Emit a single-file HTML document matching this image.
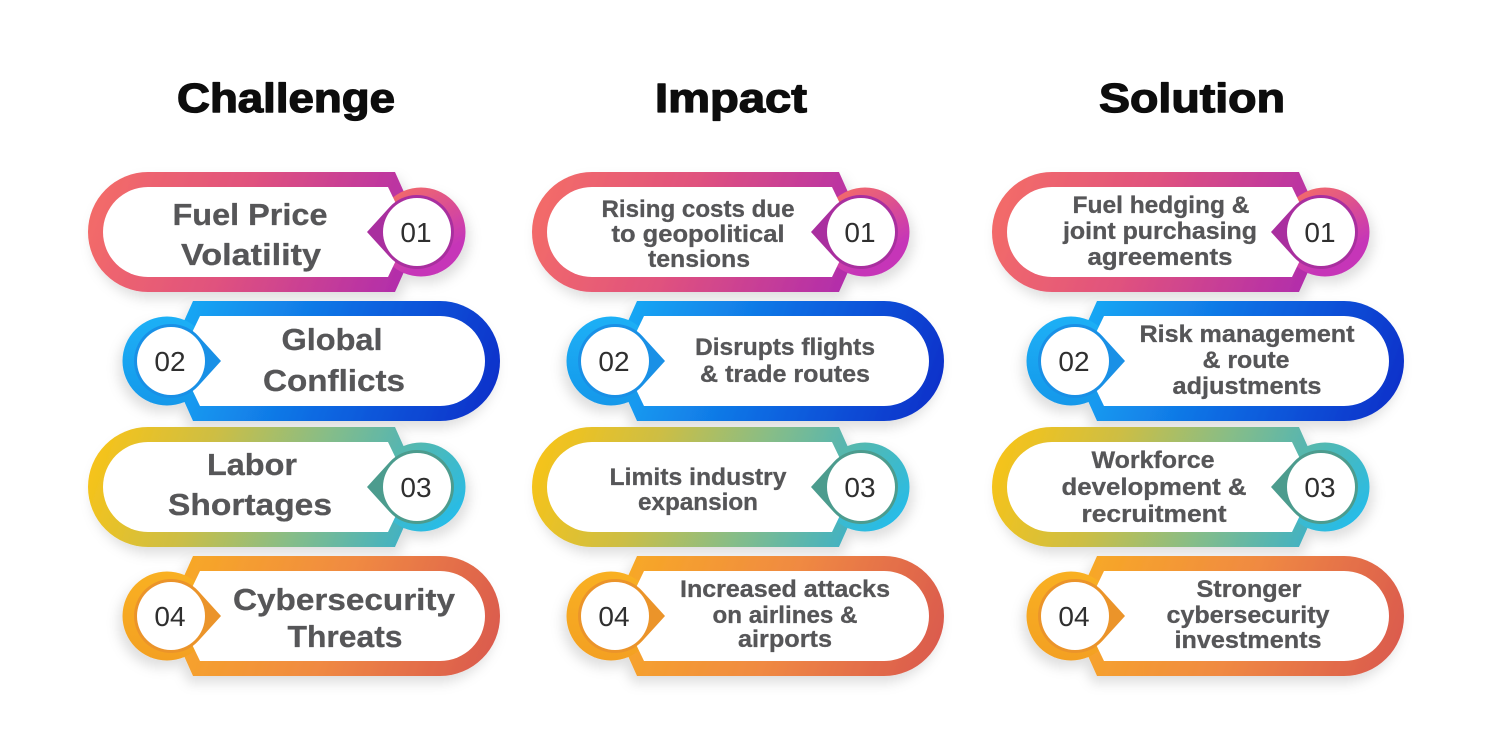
<!DOCTYPE html>
<html>
<head>
<meta charset="utf-8">
<style>
  html,body{margin:0;padding:0;background:#fff;}
  svg{display:block;}
  .t{font-family:"Liberation Sans",Arial,sans-serif;font-weight:bold;fill:#565658;text-anchor:middle;stroke:#565658;stroke-width:0.3;}
  .h{font-family:"Liberation Sans",Arial,sans-serif;font-weight:bold;fill:#0d0d0d;text-anchor:middle;font-size:41px;stroke:#0d0d0d;stroke-width:1.3;stroke-linejoin:round;}
  .n{font-family:"Liberation Sans",Arial,sans-serif;font-weight:normal;fill:#2f2f2f;text-anchor:middle;font-size:28px;}
</style>
</head>
<body>
<svg width="1500" height="750" viewBox="0 0 1500 750" xmlns="http://www.w3.org/2000/svg">
  <defs>
    <filter id="sh" x="-20%" y="-30%" width="150%" height="170%">
      <feDropShadow dx="4" dy="7" stdDeviation="6" flood-color="#000" flood-opacity="0.13"/>
    </filter>
    <linearGradient id="b1" gradientUnits="userSpaceOnUse" x1="0" y1="-60" x2="330" y2="60">
      <stop offset="0" stop-color="#f56e66"/>
      <stop offset="0.45" stop-color="#e0527e"/>
      <stop offset="1" stop-color="#ad29b0"/>
    </linearGradient>
    <linearGradient id="r1" gradientUnits="userSpaceOnUse" x1="315" y1="-45" x2="355" y2="20">
      <stop offset="0" stop-color="#f26a6a"/>
      <stop offset="1" stop-color="#c636b8"/>
    </linearGradient>
    <linearGradient id="b2" gradientUnits="userSpaceOnUse" x1="0" y1="60" x2="330" y2="-60">
      <stop offset="0" stop-color="#0a2cc8"/>
      <stop offset="0.5" stop-color="#0f6ae2"/>
      <stop offset="1" stop-color="#17aef6"/>
    </linearGradient>
    <linearGradient id="r2" gradientUnits="userSpaceOnUse" x1="333" y1="-45" x2="333" y2="45">
      <stop offset="0" stop-color="#1bb0f6"/>
      <stop offset="1" stop-color="#1898ea"/>
    </linearGradient>
    <linearGradient id="b3" gradientUnits="userSpaceOnUse" x1="0" y1="-60" x2="330" y2="60">
      <stop offset="0" stop-color="#fcc414"/>
      <stop offset="0.35" stop-color="#cdbe44"/>
      <stop offset="0.65" stop-color="#86bd88"/>
      <stop offset="1" stop-color="#36b0cc"/>
    </linearGradient>
    <linearGradient id="r3" gradientUnits="userSpaceOnUse" x1="300" y1="-40" x2="370" y2="40">
      <stop offset="0" stop-color="#5cb8a6"/>
      <stop offset="1" stop-color="#22bcee"/>
    </linearGradient>
    <linearGradient id="b4" gradientUnits="userSpaceOnUse" x1="0" y1="60" x2="330" y2="-60">
      <stop offset="0" stop-color="#d9574f"/>
      <stop offset="0.5" stop-color="#f08a42"/>
      <stop offset="1" stop-color="#f8ab24"/>
    </linearGradient>
    <linearGradient id="r4" gradientUnits="userSpaceOnUse" x1="333" y1="-45" x2="333" y2="45">
      <stop offset="0" stop-color="#f9b022"/>
      <stop offset="1" stop-color="#f3a024"/>
    </linearGradient>

    <path id="band" d="M60,-60 H307 L324,-22 V22 L307,60 H60 A60,60 0 0 1 60,-60 Z"/>
    <path id="inner" d="M60,-45 H300 L313,-18 V18 L300,45 H60 A45,45 0 0 1 60,-45 Z"/>
    <path id="tear" d="M279,0 L301.6,-24.9 A37,37 0 1 1 301.6,24.9 Z"/>
  </defs>

  <rect width="1500" height="750" fill="#fff"/>

  <text class="h" x="286" y="112" textLength="218" lengthAdjust="spacingAndGlyphs">Challenge</text>
  <text class="h" x="731" y="112" textLength="152" lengthAdjust="spacingAndGlyphs">Impact</text>
  <text class="h" x="1192" y="112" textLength="186" lengthAdjust="spacingAndGlyphs">Solution</text>

  <g transform="translate(88,232)">
    <g filter="url(#sh)"><use href="#band" fill="url(#b1)"/><circle cx="333" cy="0" r="44.5" fill="url(#r1)"/></g>
    <use href="#inner" fill="#fff"/><use href="#tear" fill="#a92f9f"/><circle cx="329" cy="0" r="34" fill="#fff"/>
  </g>
  <g transform="translate(532,232)">
    <g filter="url(#sh)"><use href="#band" fill="url(#b1)"/><circle cx="333" cy="0" r="44.5" fill="url(#r1)"/></g>
    <use href="#inner" fill="#fff"/><use href="#tear" fill="#a92f9f"/><circle cx="329" cy="0" r="34" fill="#fff"/>
  </g>
  <g transform="translate(992,232)">
    <g filter="url(#sh)"><use href="#band" fill="url(#b1)"/><circle cx="333" cy="0" r="44.5" fill="url(#r1)"/></g>
    <use href="#inner" fill="#fff"/><use href="#tear" fill="#a92f9f"/><circle cx="329" cy="0" r="34" fill="#fff"/>
  </g>

  <g transform="translate(500,361) scale(-1,1)">
    <g filter="url(#sh)"><use href="#band" fill="url(#b2)"/><circle cx="333" cy="0" r="44.5" fill="url(#r2)"/></g>
    <use href="#inner" fill="#fff"/><use href="#tear" fill="#1990e6"/><circle cx="329" cy="0" r="34" fill="#fff"/>
  </g>
  <g transform="translate(944,361) scale(-1,1)">
    <g filter="url(#sh)"><use href="#band" fill="url(#b2)"/><circle cx="333" cy="0" r="44.5" fill="url(#r2)"/></g>
    <use href="#inner" fill="#fff"/><use href="#tear" fill="#1990e6"/><circle cx="329" cy="0" r="34" fill="#fff"/>
  </g>
  <g transform="translate(1404,361) scale(-1,1)">
    <g filter="url(#sh)"><use href="#band" fill="url(#b2)"/><circle cx="333" cy="0" r="44.5" fill="url(#r2)"/></g>
    <use href="#inner" fill="#fff"/><use href="#tear" fill="#1990e6"/><circle cx="329" cy="0" r="34" fill="#fff"/>
  </g>

  <g transform="translate(88,487)">
    <g filter="url(#sh)"><use href="#band" fill="url(#b3)"/><circle cx="333" cy="0" r="44.5" fill="url(#r3)"/></g>
    <use href="#inner" fill="#fff"/><use href="#tear" fill="#4c9c8e"/><circle cx="329" cy="0" r="34" fill="#fff"/>
  </g>
  <g transform="translate(532,487)">
    <g filter="url(#sh)"><use href="#band" fill="url(#b3)"/><circle cx="333" cy="0" r="44.5" fill="url(#r3)"/></g>
    <use href="#inner" fill="#fff"/><use href="#tear" fill="#4c9c8e"/><circle cx="329" cy="0" r="34" fill="#fff"/>
  </g>
  <g transform="translate(992,487)">
    <g filter="url(#sh)"><use href="#band" fill="url(#b3)"/><circle cx="333" cy="0" r="44.5" fill="url(#r3)"/></g>
    <use href="#inner" fill="#fff"/><use href="#tear" fill="#4c9c8e"/><circle cx="329" cy="0" r="34" fill="#fff"/>
  </g>

  <g transform="translate(500,616) scale(-1,1)">
    <g filter="url(#sh)"><use href="#band" fill="url(#b4)"/><circle cx="333" cy="0" r="44.5" fill="url(#r4)"/></g>
    <use href="#inner" fill="#fff"/><use href="#tear" fill="#eb942a"/><circle cx="329" cy="0" r="34" fill="#fff"/>
  </g>
  <g transform="translate(944,616) scale(-1,1)">
    <g filter="url(#sh)"><use href="#band" fill="url(#b4)"/><circle cx="333" cy="0" r="44.5" fill="url(#r4)"/></g>
    <use href="#inner" fill="#fff"/><use href="#tear" fill="#eb942a"/><circle cx="329" cy="0" r="34" fill="#fff"/>
  </g>
  <g transform="translate(1404,616) scale(-1,1)">
    <g filter="url(#sh)"><use href="#band" fill="url(#b4)"/><circle cx="333" cy="0" r="44.5" fill="url(#r4)"/></g>
    <use href="#inner" fill="#fff"/><use href="#tear" fill="#eb942a"/><circle cx="329" cy="0" r="34" fill="#fff"/>
  </g>

  <text class="n" x="416" y="242">01</text>
  <text class="n" x="860" y="242">01</text>
  <text class="n" x="1320" y="242">01</text>
  <text class="n" x="170" y="371">02</text>
  <text class="n" x="614" y="371">02</text>
  <text class="n" x="1074" y="371">02</text>
  <text class="n" x="416" y="497">03</text>
  <text class="n" x="860" y="497">03</text>
  <text class="n" x="1320" y="497">03</text>
  <text class="n" x="170" y="626">04</text>
  <text class="n" x="614" y="626">04</text>
  <text class="n" x="1074" y="626">04</text>

  <g class="t" font-size="31">
    <text x="250" y="225" textLength="155" lengthAdjust="spacingAndGlyphs">Fuel Price</text>
    <text x="251" y="265" textLength="140" lengthAdjust="spacingAndGlyphs">Volatility</text>
    <text x="332" y="350" textLength="101" lengthAdjust="spacingAndGlyphs">Global</text>
    <text x="334" y="391" textLength="142" lengthAdjust="spacingAndGlyphs">Conflicts</text>
    <text x="252" y="475" textLength="90" lengthAdjust="spacingAndGlyphs">Labor</text>
    <text x="250" y="515" textLength="164" lengthAdjust="spacingAndGlyphs">Shortages</text>
    <text x="344" y="610" textLength="222" lengthAdjust="spacingAndGlyphs">Cybersecurity</text>
    <text x="345" y="647" textLength="115" lengthAdjust="spacingAndGlyphs">Threats</text>
  </g>

  <g class="t" font-size="24">
    <text x="698" y="217" textLength="193" lengthAdjust="spacingAndGlyphs">Rising costs due</text>
    <text x="698" y="242" textLength="173" lengthAdjust="spacingAndGlyphs">to geopolitical</text>
    <text x="699" y="267" textLength="102" lengthAdjust="spacingAndGlyphs">tensions</text>
    <text x="785" y="355" textLength="180" lengthAdjust="spacingAndGlyphs">Disrupts flights</text>
    <text x="785" y="382" textLength="170" lengthAdjust="spacingAndGlyphs">&amp; trade routes</text>
    <text x="698" y="485" textLength="177" lengthAdjust="spacingAndGlyphs">Limits industry</text>
    <text x="698" y="510" textLength="120" lengthAdjust="spacingAndGlyphs">expansion</text>
    <text x="785" y="597" textLength="210" lengthAdjust="spacingAndGlyphs">Increased attacks</text>
    <text x="785" y="623" textLength="145" lengthAdjust="spacingAndGlyphs">on airlines &amp;</text>
    <text x="785" y="647" textLength="94" lengthAdjust="spacingAndGlyphs">airports</text>
  </g>

  <g class="t" font-size="24">
    <text x="1161" y="213" textLength="177" lengthAdjust="spacingAndGlyphs">Fuel hedging &amp;</text>
    <text x="1160" y="239" textLength="194" lengthAdjust="spacingAndGlyphs">joint purchasing</text>
    <text x="1160" y="265" textLength="145" lengthAdjust="spacingAndGlyphs">agreements</text>
    <text x="1247" y="342" textLength="215" lengthAdjust="spacingAndGlyphs">Risk management</text>
    <text x="1246" y="368" textLength="87" lengthAdjust="spacingAndGlyphs">&amp; route</text>
    <text x="1247" y="394" textLength="149" lengthAdjust="spacingAndGlyphs">adjustments</text>
    <text x="1153" y="468" textLength="123" lengthAdjust="spacingAndGlyphs">Workforce</text>
    <text x="1154" y="495" textLength="185" lengthAdjust="spacingAndGlyphs">development &amp;</text>
    <text x="1154" y="522" textLength="145" lengthAdjust="spacingAndGlyphs">recruitment</text>
    <text x="1249" y="597" textLength="105" lengthAdjust="spacingAndGlyphs">Stronger</text>
    <text x="1248" y="623" textLength="163" lengthAdjust="spacingAndGlyphs">cybersecurity</text>
    <text x="1248" y="648" textLength="147" lengthAdjust="spacingAndGlyphs">investments</text>
  </g>
</svg>
</body>
</html>
